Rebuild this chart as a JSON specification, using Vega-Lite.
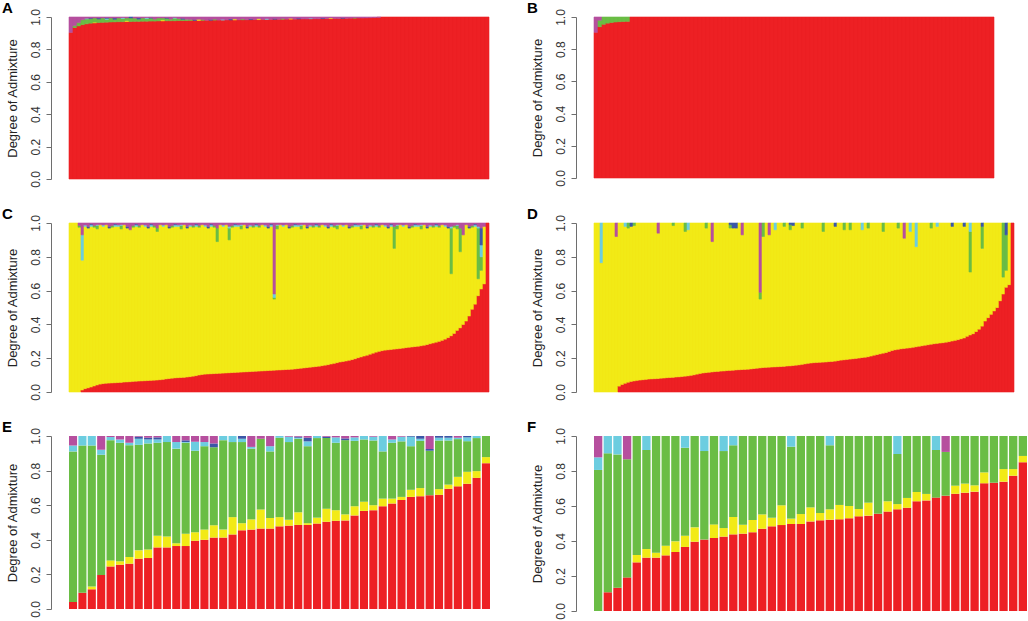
{
  "$schema": "https://vega.github.io/schema/vega-lite/v6.json",
  "padding": {"left": 2, "top": 0, "right": 0, "bottom": 0},
  "bounds": "flush",
  "columns": 2,
  "spacing": {"row": 44, "column": 104},
  "datasets": {
    "a": [
      {"i":0,"k1":0.905,"k6":0.095},{"i":1,"k1":0.935,"k3":0.012,"k6":0.053},{"i":2,"k1":0.945,"k3":0.02,"k6":0.035},
      {"i":3,"k1":0.953,"k3":0.03,"k6":0.017},{"i":4,"k1":0.958,"k3":0.03,"k4":0.004,"k6":0.008},{"i":5,"k1":0.962,"k3":0.028,"k5":0.004,"k6":0.006},
      {"i":6,"k1":0.964,"k2":0.004,"k3":0.026,"k6":0.006},{"i":7,"k1":0.966,"k3":0.022,"k5":0.006,"k6":0.006},{"i":8,"k1":0.967,"k3":0.027,"k6":0.006},
      {"i":9,"k1":0.968,"k3":0.018,"k4":0.006,"k5":0.004,"k6":0.004},{"i":10,"k1":0.969,"k3":0.025,"k6":0.006},{"i":11,"k1":0.97,"k3":0.016,"k5":0.008,"k6":0.006},
      {"i":12,"k1":0.971,"k3":0.023,"k6":0.006},{"i":13,"k1":0.971,"k3":0.02,"k4":0.005,"k6":0.004},{"i":14,"k1":0.972,"k2":0.005,"k3":0.017,"k6":0.006},
      {"i":15,"k1":0.972,"k3":0.022,"k5":0.006},{"i":16,"k1":0.973,"k3":0.02,"k6":0.007},{"i":17,"k1":0.973,"k3":0.014,"k5":0.008,"k6":0.005},
      {"i":18,"k1":0.974,"k3":0.02,"k6":0.006},{"i":19,"k1":0.974,"k3":0.016,"k4":0.006,"k6":0.004},{"i":20,"k1":0.975,"k3":0.018,"k5":0.004,"k6":0.003},
      {"i":21,"k1":0.975,"k3":0.012,"k6":0.013},{"i":22,"k1":0.976,"k3":0.018,"k6":0.006},{"i":23,"k1":0.976,"k2":0.006,"k3":0.012,"k6":0.006},
      {"i":24,"k1":0.977,"k3":0.015,"k5":0.004,"k6":0.004},{"i":25,"k1":0.977,"k3":0.01,"k6":0.013},{"i":26,"k1":0.977,"k3":0.016,"k4":0.004,"k6":0.003},
      {"i":27,"k1":0.978,"k3":0.012,"k6":0.01},{"i":28,"k1":0.978,"k3":0.008,"k5":0.006,"k6":0.008},{"i":29,"k1":0.978,"k3":0.008,"k6":0.014},
      {"i":30,"k1":0.979,"k3":0.006,"k6":0.015},{"i":31,"k1":0.979,"k5":0.006,"k6":0.015},{"i":32,"k1":0.979,"k2":0.007,"k6":0.014},
      {"i":33,"k1":0.98,"k3":0.005,"k6":0.015},{"i":34,"k1":0.98,"k6":0.02},{"i":35,"k1":0.98,"k5":0.005,"k6":0.015},
      {"i":36,"k1":0.981,"k3":0.006,"k6":0.013},{"i":37,"k1":0.981,"k6":0.019},{"i":38,"k1":0.981,"k4":0.005,"k6":0.014},
      {"i":39,"k1":0.982,"k6":0.018},{"i":40,"k1":0.982,"k5":0.006,"k6":0.012},{"i":41,"k1":0.982,"k2":0.006,"k6":0.012},
      {"i":42,"k1":0.983,"k6":0.017},{"i":43,"k1":0.983,"k3":0.005,"k6":0.012},{"i":44,"k1":0.983,"k6":0.017},
      {"i":45,"k1":0.984,"k5":0.005,"k6":0.011},{"i":46,"k1":0.984,"k6":0.016},{"i":47,"k1":0.984,"k2":0.006,"k6":0.01},
      {"i":48,"k1":0.985,"k6":0.015},{"i":49,"k1":0.985,"k4":0.005,"k6":0.01},{"i":50,"k1":0.985,"k6":0.015},
      {"i":51,"k1":0.986,"k5":0.005,"k6":0.009},{"i":52,"k1":0.986,"k6":0.014},{"i":53,"k1":0.986,"k3":0.005,"k6":0.009},
      {"i":54,"k1":0.987,"k6":0.013},{"i":55,"k1":0.987,"k2":0.005,"k6":0.008},{"i":56,"k1":0.987,"k6":0.013},
      {"i":57,"k1":0.988,"k5":0.005,"k6":0.007},{"i":58,"k1":0.988,"k6":0.012},{"i":59,"k1":0.988,"k6":0.012},
      {"i":60,"k1":0.989,"k4":0.004,"k6":0.007},{"i":61,"k1":0.989,"k6":0.011},{"i":62,"k1":0.989,"k6":0.011},
      {"i":63,"k1":0.99,"k5":0.004,"k6":0.006},{"i":64,"k1":0.99,"k6":0.01},{"i":65,"k1":0.99,"k2":0.004,"k6":0.006},
      {"i":66,"k1":0.991,"k6":0.009},{"i":67,"k1":0.991,"k6":0.009},{"i":68,"k1":0.992,"k5":0.004,"k6":0.004},
      {"i":69,"k1":0.992,"k6":0.008},{"i":70,"k1":0.993,"k6":0.007},{"i":71,"k1":0.993,"k3":0.003,"k6":0.004},
      {"i":72,"k1":0.994,"k6":0.006},{"i":73,"k1":0.994,"k6":0.006},{"i":74,"k1":0.995,"k6":0.005},
      {"i":75,"k1":0.996,"k6":0.004},{"i":76,"k1":0.997,"k6":0.003},{"i":77,"k1":0.998,"k6":0.002},
      {"i":78,"k1":1},{"i":79,"k1":1},{"i":80,"k1":1},{"i":81,"k1":1},{"i":82,"k1":1},{"i":83,"k1":1},{"i":84,"k1":1},
      {"i":85,"k1":1},{"i":86,"k1":1},{"i":87,"k1":1},{"i":88,"k1":1},{"i":89,"k1":1},{"i":90,"k1":1},{"i":91,"k1":1},
      {"i":92,"k1":1},{"i":93,"k1":1},{"i":94,"k1":1},{"i":95,"k1":1},{"i":96,"k1":1},{"i":97,"k1":1},{"i":98,"k1":1},
      {"i":99,"k1":1},{"i":100,"k1":1},{"i":101,"k1":1},{"i":102,"k1":1},{"i":103,"k1":1},{"i":104,"k1":1}
    ],
    "b": [
      {"i":0,"k1":0.905,"k6":0.095},{"i":1,"k1":0.94,"k3":0.04,"k6":0.02},{"i":2,"k1":0.955,"k3":0.045},
      {"i":3,"k1":0.962,"k3":0.038},{"i":4,"k1":0.966,"k3":0.034},{"i":5,"k1":0.969,"k3":0.031},
      {"i":6,"k1":0.971,"k3":0.029},{"i":7,"k1":0.972,"k3":0.028},{"i":8,"k1":0.973,"k3":0.027},
      {"i":9,"k1":1},{"i":10,"k1":1},{"i":11,"k1":1},{"i":12,"k1":1},{"i":13,"k1":1},{"i":14,"k1":1},{"i":15,"k1":1},
      {"i":16,"k1":1},{"i":17,"k1":1},{"i":18,"k1":1},{"i":19,"k1":1},{"i":20,"k1":1},{"i":21,"k1":1},{"i":22,"k1":1},
      {"i":23,"k1":1},{"i":24,"k1":1},{"i":25,"k1":1},{"i":26,"k1":1},{"i":27,"k1":1},{"i":28,"k1":1},{"i":29,"k1":1},
      {"i":30,"k1":1},{"i":31,"k1":1},{"i":32,"k1":1},{"i":33,"k1":1},{"i":34,"k1":1},{"i":35,"k1":1},{"i":36,"k1":1},
      {"i":37,"k1":1},{"i":38,"k1":1},{"i":39,"k1":1},{"i":40,"k1":1},{"i":41,"k1":1},{"i":42,"k1":1},{"i":43,"k1":1},
      {"i":44,"k1":1},{"i":45,"k1":1},{"i":46,"k1":1},{"i":47,"k1":1},{"i":48,"k1":1},{"i":49,"k1":1},{"i":50,"k1":1},
      {"i":51,"k1":1},{"i":52,"k1":1},{"i":53,"k1":1},{"i":54,"k1":1},{"i":55,"k1":1},{"i":56,"k1":1},{"i":57,"k1":1},
      {"i":58,"k1":1},{"i":59,"k1":1},{"i":60,"k1":1},{"i":61,"k1":1},{"i":62,"k1":1},{"i":63,"k1":1},{"i":64,"k1":1},
      {"i":65,"k1":1},{"i":66,"k1":1},{"i":67,"k1":1},{"i":68,"k1":1},{"i":69,"k1":1},{"i":70,"k1":1},{"i":71,"k1":1},
      {"i":72,"k1":1},{"i":73,"k1":1},{"i":74,"k1":1},{"i":75,"k1":1},{"i":76,"k1":1},{"i":77,"k1":1},{"i":78,"k1":1},
      {"i":79,"k1":1},{"i":80,"k1":1},{"i":81,"k1":1},{"i":82,"k1":1},{"i":83,"k1":1},{"i":84,"k1":1},{"i":85,"k1":1},
      {"i":86,"k1":1},{"i":87,"k1":1},{"i":88,"k1":1},{"i":89,"k1":1},{"i":90,"k1":1},{"i":91,"k1":1},{"i":92,"k1":1},
      {"i":93,"k1":1},{"i":94,"k1":1},{"i":95,"k1":1},{"i":96,"k1":1},{"i":97,"k1":1},{"i":98,"k1":1},{"i":99,"k1":1}
    ],
    "c": [
      {"i":0,"k2":1},{"i":1,"k2":1},{"i":2,"k2":1},
      {"i":3,"k2":0.975,"k3":0.01,"k6":0.015},
      {"i":4,"k1":0.012,"k2":0.768,"k4":0.15,"k6":0.07},
      {"i":5,"k1":0.02,"k2":0.96,"k4":0.008,"k6":0.012},
      {"i":6,"k1":0.025,"k2":0.945,"k5":0.01,"k6":0.02},
      {"i":7,"k1":0.03,"k2":0.95,"k4":0.01,"k5":0.005,"k6":0.005},
      {"i":8,"k1":0.036,"k2":0.939,"k3":0.01,"k6":0.015},
      {"i":9,"k1":0.042,"k2":0.923,"k3":0.02,"k4":0.005,"k6":0.01},
      {"i":10,"k1":0.047,"k2":0.943,"k6":0.01},
      {"i":11,"k1":0.05,"k2":0.93,"k4":0.008,"k6":0.012},
      {"i":12,"k1":0.052,"k2":0.938,"k6":0.01},
      {"i":13,"k1":0.053,"k2":0.917,"k5":0.01,"k6":0.02},
      {"i":14,"k1":0.054,"k2":0.921,"k3":0.01,"k6":0.015},
      {"i":15,"k1":0.055,"k2":0.925,"k4":0.01,"k5":0.005,"k6":0.005},
      {"i":16,"k1":0.056,"k2":0.924,"k4":0.008,"k6":0.012},
      {"i":17,"k1":0.057,"k2":0.908,"k3":0.02,"k4":0.005,"k6":0.01},
      {"i":18,"k1":0.059,"k2":0.931,"k6":0.01},
      {"i":19,"k1":0.06,"k2":0.91,"k5":0.01,"k6":0.02},
      {"i":20,"k1":0.061,"k2":0.899,"k6":0.04},
      {"i":21,"k1":0.063,"k2":0.912,"k3":0.01,"k6":0.015},
      {"i":22,"k1":0.064,"k2":0.916,"k4":0.01,"k5":0.005,"k6":0.005},
      {"i":23,"k1":0.065,"k2":0.91,"k3":0.01,"k6":0.015},
      {"i":24,"k1":0.066,"k2":0.924,"k6":0.01},
      {"i":25,"k1":0.067,"k2":0.913,"k4":0.008,"k6":0.012},
      {"i":26,"k1":0.068,"k2":0.902,"k5":0.01,"k6":0.02},
      {"i":27,"k1":0.069,"k2":0.911,"k4":0.01,"k5":0.005,"k6":0.005},
      {"i":28,"k1":0.07,"k2":0.905,"k3":0.01,"k6":0.015},
      {"i":29,"k1":0.071,"k2":0.879,"k3":0.02,"k6":0.03},
      {"i":30,"k1":0.073,"k2":0.917,"k6":0.01},
      {"i":31,"k1":0.075,"k2":0.905,"k4":0.008,"k6":0.012},
      {"i":32,"k1":0.078,"k2":0.912,"k6":0.01},
      {"i":33,"k1":0.08,"k2":0.89,"k5":0.01,"k6":0.02},
      {"i":34,"k1":0.082,"k2":0.893,"k3":0.01,"k6":0.015},
      {"i":35,"k1":0.084,"k2":0.896,"k4":0.01,"k5":0.005,"k6":0.005},
      {"i":36,"k1":0.085,"k2":0.895,"k4":0.008,"k6":0.012},
      {"i":37,"k1":0.086,"k2":0.879,"k3":0.02,"k4":0.005,"k6":0.01},
      {"i":38,"k1":0.087,"k2":0.903,"k6":0.01},
      {"i":39,"k1":0.089,"k2":0.881,"k5":0.01,"k6":0.02},
      {"i":40,"k1":0.091,"k2":0.889,"k4":0.008,"k6":0.012},
      {"i":41,"k1":0.094,"k2":0.881,"k3":0.01,"k6":0.015},
      {"i":42,"k1":0.097,"k2":0.883,"k4":0.01,"k5":0.005,"k6":0.005},
      {"i":43,"k1":0.101,"k2":0.874,"k3":0.01,"k6":0.015},
      {"i":44,"k1":0.104,"k2":0.886,"k6":0.01},
      {"i":45,"k1":0.106,"k2":0.874,"k4":0.008,"k6":0.012},
      {"i":46,"k1":0.107,"k2":0.863,"k5":0.01,"k6":0.02},
      {"i":47,"k1":0.108,"k2":0.872,"k4":0.01,"k5":0.005,"k6":0.005},
      {"i":48,"k1":0.109,"k2":0.866,"k3":0.01,"k6":0.015},
      {"i":49,"k1":0.11,"k2":0.78,"k3":0.08,"k6":0.03},
      {"i":50,"k1":0.111,"k2":0.879,"k6":0.01},
      {"i":51,"k1":0.112,"k2":0.868,"k4":0.008,"k6":0.012},
      {"i":52,"k1":0.113,"k2":0.877,"k6":0.01},
      {"i":53,"k1":0.114,"k2":0.786,"k3":0.07,"k4":0.01,"k6":0.02},
      {"i":54,"k1":0.115,"k2":0.86,"k3":0.01,"k6":0.015},
      {"i":55,"k1":0.116,"k2":0.864,"k4":0.01,"k5":0.005,"k6":0.005},
      {"i":56,"k1":0.117,"k2":0.863,"k4":0.008,"k6":0.012},
      {"i":57,"k1":0.118,"k2":0.847,"k3":0.02,"k4":0.005,"k6":0.01},
      {"i":58,"k1":0.119,"k2":0.871,"k6":0.01},
      {"i":59,"k1":0.12,"k2":0.85,"k5":0.01,"k6":0.02},
      {"i":60,"k1":0.121,"k2":0.859,"k4":0.008,"k6":0.012},
      {"i":61,"k1":0.122,"k2":0.853,"k3":0.01,"k6":0.015},
      {"i":62,"k1":0.123,"k2":0.857,"k4":0.01,"k5":0.005,"k6":0.005},
      {"i":63,"k1":0.124,"k2":0.851,"k3":0.01,"k6":0.015},
      {"i":64,"k1":0.125,"k2":0.865,"k6":0.01},
      {"i":65,"k1":0.126,"k2":0.854,"k4":0.008,"k6":0.012},
      {"i":66,"k1":0.127,"k2":0.843,"k5":0.01,"k6":0.02},
      {"i":67,"k1":0.128,"k2":0.852,"k4":0.01,"k5":0.005,"k6":0.005},
      {"i":68,"k1":0.129,"k2":0.421,"k3":0.01,"k4":0.02,"k6":0.42},
      {"i":69,"k1":0.13,"k2":0.835,"k3":0.02,"k4":0.005,"k6":0.01},
      {"i":70,"k1":0.131,"k2":0.859,"k6":0.01},
      {"i":71,"k1":0.132,"k2":0.848,"k4":0.008,"k6":0.012},
      {"i":72,"k1":0.133,"k2":0.857,"k6":0.01},
      {"i":73,"k1":0.134,"k2":0.836,"k5":0.01,"k6":0.02},
      {"i":74,"k1":0.135,"k2":0.84,"k3":0.01,"k6":0.015},
      {"i":75,"k1":0.137,"k2":0.843,"k4":0.01,"k5":0.005,"k6":0.005},
      {"i":76,"k1":0.139,"k2":0.841,"k4":0.008,"k6":0.012},
      {"i":77,"k1":0.141,"k2":0.824,"k3":0.02,"k4":0.005,"k6":0.01},
      {"i":78,"k1":0.143,"k2":0.847,"k6":0.01},
      {"i":79,"k1":0.145,"k2":0.825,"k5":0.01,"k6":0.02},
      {"i":80,"k1":0.147,"k2":0.833,"k4":0.008,"k6":0.012},
      {"i":81,"k1":0.149,"k2":0.826,"k3":0.01,"k6":0.015},
      {"i":82,"k1":0.151,"k2":0.829,"k4":0.01,"k5":0.005,"k6":0.005},
      {"i":83,"k1":0.153,"k2":0.822,"k3":0.01,"k6":0.015},
      {"i":84,"k1":0.156,"k2":0.834,"k6":0.01},
      {"i":85,"k1":0.159,"k2":0.821,"k4":0.008,"k6":0.012},
      {"i":86,"k1":0.162,"k2":0.808,"k5":0.01,"k6":0.02},
      {"i":87,"k1":0.166,"k2":0.814,"k4":0.01,"k5":0.005,"k6":0.005},
      {"i":88,"k1":0.17,"k2":0.805,"k3":0.01,"k6":0.015},
      {"i":89,"k1":0.174,"k2":0.791,"k3":0.02,"k4":0.005,"k6":0.01},
      {"i":90,"k1":0.178,"k2":0.812,"k6":0.01},
      {"i":91,"k1":0.181,"k2":0.799,"k4":0.008,"k6":0.012},
      {"i":92,"k1":0.184,"k2":0.806,"k6":0.01},
      {"i":93,"k1":0.188,"k2":0.782,"k5":0.01,"k6":0.02},
      {"i":94,"k1":0.192,"k2":0.783,"k3":0.01,"k6":0.015},
      {"i":95,"k1":0.197,"k2":0.783,"k4":0.01,"k5":0.005,"k6":0.005},
      {"i":96,"k1":0.203,"k2":0.777,"k4":0.008,"k6":0.012},
      {"i":97,"k1":0.208,"k2":0.757,"k3":0.02,"k4":0.005,"k6":0.01},
      {"i":98,"k1":0.213,"k2":0.777,"k6":0.01},
      {"i":99,"k1":0.218,"k2":0.752,"k5":0.01,"k6":0.02},
      {"i":100,"k1":0.224,"k2":0.756,"k4":0.008,"k6":0.012},
      {"i":101,"k1":0.23,"k2":0.745,"k3":0.01,"k6":0.015},
      {"i":102,"k1":0.236,"k2":0.744,"k4":0.01,"k5":0.005,"k6":0.005},
      {"i":103,"k1":0.241,"k2":0.734,"k3":0.01,"k6":0.015},
      {"i":104,"k1":0.245,"k2":0.745,"k6":0.01},
      {"i":105,"k1":0.248,"k2":0.732,"k4":0.008,"k6":0.012},
      {"i":106,"k1":0.25,"k2":0.72,"k5":0.01,"k6":0.02},
      {"i":107,"k1":0.252,"k2":0.728,"k4":0.01,"k5":0.005,"k6":0.005},
      {"i":108,"k1":0.254,"k2":0.596,"k3":0.13,"k6":0.02},
      {"i":109,"k1":0.256,"k2":0.709,"k3":0.02,"k4":0.005,"k6":0.01},
      {"i":110,"k1":0.258,"k2":0.732,"k6":0.01},
      {"i":111,"k1":0.26,"k2":0.72,"k4":0.008,"k6":0.012},
      {"i":112,"k1":0.263,"k2":0.727,"k6":0.01},
      {"i":113,"k1":0.265,"k2":0.705,"k5":0.01,"k6":0.02},
      {"i":114,"k1":0.267,"k2":0.708,"k3":0.01,"k6":0.015},
      {"i":115,"k1":0.269,"k2":0.711,"k4":0.01,"k5":0.005,"k6":0.005},
      {"i":116,"k1":0.271,"k2":0.709,"k4":0.008,"k6":0.012},
      {"i":117,"k1":0.274,"k2":0.691,"k3":0.02,"k4":0.005,"k6":0.01},
      {"i":118,"k1":0.277,"k2":0.713,"k6":0.01},
      {"i":119,"k1":0.281,"k2":0.689,"k5":0.01,"k6":0.02},
      {"i":120,"k1":0.286,"k2":0.694,"k4":0.008,"k6":0.012},
      {"i":121,"k1":0.29,"k2":0.685,"k3":0.01,"k6":0.015},
      {"i":122,"k1":0.295,"k2":0.685,"k4":0.01,"k5":0.005,"k6":0.005},
      {"i":123,"k1":0.3,"k2":0.675,"k3":0.01,"k6":0.015},
      {"i":124,"k1":0.306,"k2":0.684,"k6":0.01},
      {"i":125,"k1":0.313,"k2":0.667,"k4":0.008,"k6":0.012},
      {"i":126,"k1":0.322,"k2":0.648,"k5":0.01,"k6":0.02},
      {"i":127,"k1":0.333,"k2":0.367,"k3":0.27,"k4":0.01,"k6":0.02},
      {"i":128,"k1":0.347,"k2":0.628,"k3":0.01,"k6":0.015},
      {"i":129,"k1":0.365,"k2":0.6,"k3":0.02,"k4":0.005,"k6":0.01},
      {"i":130,"k1":0.38,"k2":0.45,"k3":0.14,"k6":0.03},
      {"i":131,"k1":0.4,"k2":0.53,"k6":0.07},
      {"i":132,"k1":0.42,"k2":0.57,"k6":0.01},
      {"i":133,"k1":0.45,"k2":0.52,"k5":0.01,"k6":0.02},
      {"i":134,"k1":0.49,"k2":0.485,"k3":0.01,"k6":0.015},
      {"i":135,"k1":0.52,"k2":0.46,"k4":0.01,"k5":0.005,"k6":0.005},
      {"i":136,"k1":0.57,"k2":0.1,"k3":0.3,"k4":0.01,"k6":0.02},
      {"i":137,"k1":0.61,"k2":0.11,"k3":0.08,"k4":0.07,"k5":0.1,"k6":0.03},
      {"i":138,"k1":0.64,"k2":0.34,"k6":0.02},
      {"i":139,"k1":1}
    ],
    "d": [
      {"i":0,"k2":1},{"i":1,"k2":1},{"i":2,"k2":0.765,"k4":0.235},{"i":3,"k2":1},{"i":4,"k2":1},{"i":5,"k2":1},{"i":6,"k2":1},
      {"i":7,"k2":0.92,"k6":0.08},{"i":8,"k1":0.035,"k2":0.965},{"i":9,"k1":0.045,"k2":0.955},
      {"i":10,"k1":0.052,"k2":0.928,"k4":0.02},{"i":11,"k1":0.058,"k2":0.912,"k3":0.03},{"i":12,"k1":0.063,"k2":0.917,"k5":0.02},
      {"i":13,"k1":0.066,"k2":0.919,"k3":0.015},{"i":14,"k1":0.069,"k2":0.931},{"i":15,"k1":0.071,"k2":0.929},
      {"i":16,"k1":0.073,"k2":0.927},{"i":17,"k1":0.075,"k2":0.925},{"i":18,"k1":0.077,"k2":0.923},
      {"i":19,"k1":0.078,"k2":0.922},{"i":20,"k1":0.079,"k2":0.921},{"i":21,"k1":0.08,"k2":0.86,"k6":0.06},
      {"i":22,"k1":0.082,"k2":0.918},{"i":23,"k1":0.083,"k2":0.917},{"i":24,"k1":0.085,"k2":0.915},
      {"i":25,"k1":0.086,"k2":0.914},{"i":26,"k1":0.087,"k2":0.898,"k3":0.015},{"i":27,"k1":0.089,"k2":0.911},
      {"i":28,"k1":0.09,"k2":0.91},{"i":29,"k1":0.092,"k2":0.908},{"i":30,"k1":0.094,"k2":0.856,"k3":0.05},
      {"i":31,"k1":0.096,"k2":0.864,"k4":0.04},{"i":32,"k1":0.099,"k2":0.901},{"i":33,"k1":0.102,"k2":0.898},
      {"i":34,"k1":0.106,"k2":0.894},{"i":35,"k1":0.11,"k2":0.89},{"i":36,"k1":0.113,"k2":0.887},
      {"i":37,"k1":0.115,"k2":0.855,"k3":0.03},{"i":38,"k1":0.117,"k2":0.883},{"i":39,"k1":0.119,"k2":0.771,"k6":0.11},
      {"i":40,"k1":0.121,"k2":0.879},{"i":41,"k1":0.122,"k2":0.878},{"i":42,"k1":0.124,"k2":0.876},
      {"i":43,"k1":0.125,"k2":0.875},{"i":44,"k1":0.127,"k2":0.873},{"i":45,"k1":0.128,"k2":0.842,"k3":0.02,"k5":0.01},
      {"i":46,"k1":0.129,"k2":0.841,"k5":0.03},{"i":47,"k1":0.131,"k2":0.839,"k5":0.03},{"i":48,"k1":0.132,"k2":0.868},
      {"i":49,"k1":0.133,"k2":0.797,"k6":0.07},{"i":50,"k1":0.134,"k2":0.866},{"i":51,"k1":0.135,"k2":0.865},
      {"i":52,"k1":0.137,"k2":0.863},{"i":53,"k1":0.139,"k2":0.861},{"i":54,"k1":0.141,"k2":0.859},
      {"i":55,"k1":0.143,"k2":0.407,"k3":0.04,"k6":0.41},{"i":56,"k1":0.145,"k2":0.775,"k3":0.08},{"i":57,"k1":0.146,"k2":0.854},
      {"i":58,"k1":0.147,"k2":0.783,"k6":0.07},{"i":59,"k1":0.148,"k2":0.852},{"i":60,"k1":0.149,"k2":0.811,"k4":0.04},
      {"i":61,"k1":0.15,"k2":0.85},{"i":62,"k1":0.151,"k2":0.849},{"i":63,"k1":0.152,"k2":0.828,"k3":0.02},
      {"i":64,"k1":0.154,"k2":0.846},{"i":65,"k1":0.155,"k2":0.805,"k3":0.03,"k5":0.01},{"i":66,"k1":0.157,"k2":0.828,"k5":0.015},
      {"i":67,"k1":0.159,"k2":0.841},{"i":68,"k1":0.161,"k2":0.839},{"i":69,"k1":0.164,"k2":0.806,"k3":0.03},
      {"i":70,"k1":0.167,"k2":0.833},{"i":71,"k1":0.17,"k2":0.83},{"i":72,"k1":0.172,"k2":0.828},
      {"i":73,"k1":0.174,"k2":0.826},{"i":74,"k1":0.175,"k2":0.825},{"i":75,"k1":0.176,"k2":0.824},
      {"i":76,"k1":0.177,"k2":0.773,"k3":0.05},{"i":77,"k1":0.178,"k2":0.822},{"i":78,"k1":0.18,"k2":0.82},
      {"i":79,"k1":0.181,"k2":0.819},{"i":80,"k1":0.183,"k2":0.797,"k5":0.02},{"i":81,"k1":0.186,"k2":0.814},
      {"i":82,"k1":0.189,"k2":0.811},{"i":83,"k1":0.191,"k2":0.769,"k3":0.04},{"i":84,"k1":0.193,"k2":0.807},
      {"i":85,"k1":0.195,"k2":0.765,"k3":0.04},{"i":86,"k1":0.197,"k2":0.803},{"i":87,"k1":0.199,"k2":0.801},
      {"i":88,"k1":0.201,"k2":0.799},{"i":89,"k1":0.204,"k2":0.756,"k4":0.04},{"i":90,"k1":0.206,"k2":0.794},
      {"i":91,"k1":0.209,"k2":0.761,"k3":0.03},{"i":92,"k1":0.213,"k2":0.787},{"i":93,"k1":0.218,"k2":0.782},
      {"i":94,"k1":0.222,"k2":0.778},{"i":95,"k1":0.226,"k2":0.774},{"i":96,"k1":0.23,"k2":0.72,"k3":0.05},
      {"i":97,"k1":0.234,"k2":0.766},{"i":98,"k1":0.24,"k2":0.76},{"i":99,"k1":0.246,"k2":0.754},
      {"i":100,"k1":0.25,"k2":0.75},{"i":101,"k1":0.253,"k2":0.717,"k3":0.03},{"i":102,"k1":0.256,"k2":0.744},
      {"i":103,"k1":0.258,"k2":0.652,"k6":0.09},{"i":104,"k1":0.26,"k2":0.74},{"i":105,"k1":0.262,"k2":0.688,"k4":0.05},
      {"i":106,"k1":0.265,"k2":0.735},{"i":107,"k1":0.268,"k2":0.592,"k4":0.14},{"i":108,"k1":0.271,"k2":0.729},
      {"i":109,"k1":0.274,"k2":0.726},{"i":110,"k1":0.277,"k2":0.723},{"i":111,"k1":0.28,"k2":0.72},
      {"i":112,"k1":0.283,"k2":0.687,"k3":0.03},{"i":113,"k1":0.286,"k2":0.714},{"i":114,"k1":0.288,"k2":0.692,"k4":0.02},
      {"i":115,"k1":0.29,"k2":0.71},{"i":116,"k1":0.292,"k2":0.708},{"i":117,"k1":0.295,"k2":0.705},
      {"i":118,"k1":0.298,"k2":0.702},{"i":119,"k1":0.302,"k2":0.678,"k5":0.02},{"i":120,"k1":0.306,"k2":0.694},
      {"i":121,"k1":0.31,"k2":0.69},{"i":122,"k1":0.315,"k2":0.685},{"i":123,"k1":0.32,"k2":0.66,"k5":0.02},
      {"i":124,"k1":0.33,"k2":0.67},{"i":125,"k1":0.338,"k2":0.372,"k3":0.24,"k4":0.05},{"i":126,"k1":0.345,"k2":0.655},
      {"i":127,"k1":0.358,"k2":0.642},{"i":128,"k1":0.372,"k2":0.628},{"i":129,"k1":0.39,"k2":0.46,"k3":0.13,"k5":0.02},
      {"i":130,"k1":0.42,"k2":0.58},{"i":131,"k1":0.44,"k2":0.56},{"i":132,"k1":0.46,"k2":0.54},
      {"i":133,"k1":0.48,"k2":0.52},{"i":134,"k1":0.5,"k2":0.5},{"i":135,"k1":0.54,"k2":0.46},
      {"i":136,"k1":0.58,"k2":0.1,"k3":0.32},{"i":137,"k1":0.62,"k2":0.1,"k3":0.21,"k5":0.07},{"i":138,"k1":0.635,"k2":0.365},
      {"i":139,"k1":1}
    ],
    "e": [
      {"i":1,"k1":0.041,"k3":0.87,"k4":0.034,"k6":0.055},
      {"i":2,"k1":0.094,"k3":0.851,"k4":0.055},
      {"i":3,"k1":0.114,"k2":0.016,"k3":0.815,"k4":0.055},
      {"i":4,"k1":0.197,"k3":0.695,"k4":0.029,"k6":0.079},
      {"i":5,"k1":0.246,"k2":0.035,"k3":0.695,"k4":0.018,"k6":0.006},
      {"i":6,"k1":0.256,"k2":0.02,"k3":0.685,"k4":0.019,"k6":0.02},
      {"i":7,"k1":0.262,"k2":0.039,"k3":0.646,"k4":0.014,"k6":0.039},
      {"i":8,"k1":0.291,"k2":0.048,"k3":0.61,"k4":0.035,"k5":0.012,"k6":0.004},
      {"i":9,"k1":0.295,"k2":0.049,"k3":0.613,"k4":0.023,"k5":0.01,"k6":0.01},
      {"i":10,"k1":0.356,"k2":0.067,"k3":0.538,"k4":0.019,"k5":0.012,"k6":0.008},
      {"i":11,"k1":0.356,"k2":0.063,"k3":0.546,"k4":0.035},
      {"i":12,"k1":0.364,"k2":0.016,"k3":0.547,"k4":0.038,"k6":0.035},
      {"i":13,"k1":0.364,"k2":0.071,"k3":0.526,"k4":0.004,"k5":0.01,"k6":0.025},
      {"i":14,"k1":0.394,"k2":0.049,"k3":0.472,"k4":0.052,"k6":0.033},
      {"i":15,"k1":0.4,"k2":0.059,"k3":0.482,"k4":0.024,"k6":0.035},
      {"i":16,"k1":0.413,"k2":0.071,"k3":0.451,"k5":0.022,"k6":0.043},
      {"i":17,"k1":0.413,"k2":0.046,"k3":0.517,"k4":0.024},
      {"i":18,"k1":0.431,"k2":0.1,"k3":0.434,"k4":0.035},
      {"i":19,"k1":0.455,"k2":0.041,"k3":0.469,"k4":0.019,"k5":0.016},
      {"i":20,"k1":0.459,"k2":0.059,"k3":0.409,"k4":0.01,"k6":0.063},
      {"i":21,"k1":0.465,"k2":0.11,"k3":0.409,"k6":0.016},
      {"i":22,"k1":0.465,"k2":0.061,"k3":0.385,"k4":0.03,"k6":0.059},
      {"i":23,"k1":0.478,"k2":0.053,"k3":0.459,"k4":0.01},
      {"i":24,"k1":0.482,"k2":0.034,"k3":0.449,"k4":0.031,"k6":0.004},
      {"i":25,"k1":0.486,"k2":0.073,"k3":0.425,"k4":0.006,"k5":0.006,"k6":0.004},
      {"i":26,"k1":0.486,"k2":0.01,"k3":0.445,"k4":0.028,"k5":0.021,"k6":0.01},
      {"i":27,"k1":0.494,"k2":0.034,"k3":0.46,"k4":0.012},
      {"i":28,"k1":0.504,"k2":0.075,"k3":0.409,"k5":0.008,"k6":0.004},
      {"i":29,"k1":0.51,"k2":0.061,"k3":0.39,"k4":0.031,"k6":0.008},
      {"i":30,"k1":0.512,"k2":0.035,"k3":0.429,"k5":0.01,"k6":0.014},
      {"i":31,"k1":0.541,"k2":0.053,"k3":0.378,"k4":0.02,"k6":0.008},
      {"i":32,"k1":0.567,"k2":0.053,"k3":0.36,"k4":0.02},
      {"i":33,"k1":0.571,"k2":0.029,"k3":0.374,"k4":0.022,"k6":0.004},
      {"i":34,"k1":0.594,"k2":0.044,"k3":0.273,"k4":0.089},
      {"i":35,"k1":0.61,"k2":0.028,"k3":0.323,"k4":0.019,"k6":0.02},
      {"i":36,"k1":0.63,"k2":0.018,"k3":0.321,"k4":0.027,"k6":0.004},
      {"i":37,"k1":0.648,"k2":0.041,"k3":0.252,"k4":0.055,"k5":0.004},
      {"i":38,"k1":0.652,"k2":0.047,"k3":0.273,"k4":0.012,"k5":0.016},
      {"i":39,"k1":0.658,"k3":0.257,"k5":0.01,"k6":0.075},
      {"i":40,"k1":0.66,"k2":0.033,"k3":0.281,"k4":0.016,"k5":0.01},
      {"i":41,"k1":0.695,"k2":0.024,"k3":0.255,"k4":0.016,"k5":0.01},
      {"i":42,"k1":0.709,"k2":0.055,"k3":0.218,"k4":0.008,"k6":0.01},
      {"i":43,"k1":0.724,"k2":0.069,"k3":0.177,"k4":0.022,"k5":0.008},
      {"i":44,"k1":0.758,"k2":0.039,"k3":0.191,"k4":0.012},
      {"i":45,"k1":0.843,"k2":0.035,"k3":0.122}
    ],
    "f": [
      {"i":1,"k3":0.806,"k4":0.072,"k6":0.122},
      {"i":2,"k1":0.107,"k3":0.794,"k4":0.099},
      {"i":3,"k1":0.133,"k3":0.762,"k4":0.105},
      {"i":4,"k1":0.192,"k3":0.675,"k6":0.133},
      {"i":5,"k1":0.278,"k2":0.042,"k3":0.68},
      {"i":6,"k1":0.305,"k2":0.049,"k3":0.566,"k4":0.08},
      {"i":7,"k1":0.305,"k2":0.028,"k3":0.667},
      {"i":8,"k1":0.318,"k2":0.055,"k3":0.627},
      {"i":9,"k1":0.337,"k2":0.061,"k3":0.602},
      {"i":10,"k1":0.366,"k2":0.064,"k3":0.503,"k4":0.067},
      {"i":11,"k1":0.396,"k2":0.082,"k3":0.522},
      {"i":12,"k1":0.408,"k3":0.506,"k4":0.086},
      {"i":13,"k1":0.417,"k2":0.078,"k3":0.505},
      {"i":14,"k1":0.425,"k2":0.049,"k3":0.44,"k4":0.086},
      {"i":15,"k1":0.438,"k2":0.099,"k3":0.41,"k4":0.053},
      {"i":16,"k1":0.442,"k2":0.051,"k3":0.507},
      {"i":17,"k1":0.45,"k2":0.07,"k3":0.48},
      {"i":18,"k1":0.47,"k2":0.082,"k3":0.448},
      {"i":19,"k1":0.484,"k2":0.049,"k3":0.467},
      {"i":20,"k1":0.491,"k2":0.113,"k3":0.396},
      {"i":21,"k1":0.497,"k2":0.031,"k3":0.411,"k4":0.061},
      {"i":22,"k1":0.497,"k2":0.057,"k3":0.446},
      {"i":23,"k1":0.512,"k2":0.08,"k3":0.408},
      {"i":24,"k1":0.518,"k2":0.042,"k3":0.44},
      {"i":25,"k1":0.522,"k2":0.059,"k3":0.366,"k4":0.053},
      {"i":26,"k1":0.524,"k2":0.082,"k3":0.394},
      {"i":27,"k1":0.53,"k2":0.07,"k3":0.4},
      {"i":28,"k1":0.541,"k2":0.042,"k3":0.417},
      {"i":29,"k1":0.545,"k2":0.074,"k3":0.381},
      {"i":30,"k1":0.556,"k3":0.444},
      {"i":31,"k1":0.568,"k2":0.059,"k3":0.373},
      {"i":32,"k1":0.581,"k2":0.03,"k3":0.286,"k4":0.103},
      {"i":33,"k1":0.59,"k2":0.056,"k3":0.354},
      {"i":34,"k1":0.627,"k2":0.053,"k3":0.32},
      {"i":35,"k1":0.632,"k2":0.037,"k3":0.331},
      {"i":36,"k1":0.648,"k3":0.272,"k4":0.08},
      {"i":37,"k1":0.659,"k3":0.25,"k6":0.091},
      {"i":38,"k1":0.67,"k2":0.046,"k3":0.284},
      {"i":39,"k1":0.676,"k2":0.052,"k3":0.272},
      {"i":40,"k1":0.682,"k2":0.036,"k3":0.282},
      {"i":41,"k1":0.73,"k2":0.062,"k3":0.208},
      {"i":42,"k1":0.733,"k3":0.267},
      {"i":43,"k1":0.739,"k2":0.072,"k3":0.189},
      {"i":44,"k1":0.773,"k2":0.038,"k3":0.189},
      {"i":45,"k1":0.85,"k2":0.036,"k3":0.114}
    ]
  },
  "concat": [
    {
      "data": {"name": "a"}, "width": 420, "height": 162, "title": "A",
      "transform": [{"fold": ["k1", "k2", "k3", "k4", "k5", "k6"], "as": ["k", "q"]}, {"filter": "isValid(datum.q)"}],
      "mark": {"type": "bar", "strokeWidth": 0.6},
      "encoding": {
        "x": {"field": "i", "type": "ordinal", "axis": null, "scale": {"paddingInner": 0, "paddingOuter": 0}},
        "y": {"field": "q", "type": "quantitative", "stack": "zero", "scale": {"domain": [0, 1], "nice": false}, "axis": {"title": "Degree of Admixture", "values": [0, 0.2, 0.4, 0.6, 0.8, 1], "format": ".1f"}},
        "color": {"field": "k", "type": "nominal", "scale": {"domain": ["k1", "k2", "k3", "k4", "k5", "k6"], "range": ["#ED2024", "#F2EA16", "#6ABD45", "#6CCDE0", "#3B57A7", "#B64F9E"]}, "legend": null},
        "stroke": {"field": "k", "type": "nominal", "scale": {"domain": ["k1", "k2", "k3", "k4", "k5", "k6"], "range": ["#ED2024", "#F2EA16", "#6ABD45", "#6CCDE0", "#3B57A7", "#B64F9E"]}, "legend": null},
        "order": {"field": "k", "sort": "ascending"}
      }
    },
    {
      "data": {"name": "b"}, "width": 400, "height": 161, "title": "B",
      "transform": [{"fold": ["k1", "k2", "k3", "k4", "k5", "k6"], "as": ["k", "q"]}, {"filter": "isValid(datum.q)"}],
      "mark": {"type": "bar", "strokeWidth": 0.6},
      "encoding": {
        "x": {"field": "i", "type": "ordinal", "axis": null, "scale": {"paddingInner": 0, "paddingOuter": 0}},
        "y": {"field": "q", "type": "quantitative", "stack": "zero", "scale": {"domain": [0, 1], "nice": false}, "axis": {"title": "Degree of Admixture", "values": [0, 0.2, 0.4, 0.6, 0.8, 1], "format": ".1f"}},
        "color": {"field": "k", "type": "nominal", "scale": {"domain": ["k1", "k2", "k3", "k4", "k5", "k6"], "range": ["#ED2024", "#F2EA16", "#6ABD45", "#6CCDE0", "#3B57A7", "#B64F9E"]}, "legend": null},
        "stroke": {"field": "k", "type": "nominal", "scale": {"domain": ["k1", "k2", "k3", "k4", "k5", "k6"], "range": ["#ED2024", "#F2EA16", "#6ABD45", "#6CCDE0", "#3B57A7", "#B64F9E"]}, "legend": null},
        "order": {"field": "k", "sort": "ascending"}
      }
    },
    {
      "data": {"name": "c"}, "width": 420, "height": 169, "title": "C",
      "transform": [{"fold": ["k1", "k2", "k3", "k4", "k5", "k6"], "as": ["k", "q"]}, {"filter": "isValid(datum.q)"}],
      "mark": {"type": "bar", "strokeWidth": 0.6},
      "encoding": {
        "x": {"field": "i", "type": "ordinal", "axis": null, "scale": {"paddingInner": 0, "paddingOuter": 0}},
        "y": {"field": "q", "type": "quantitative", "stack": "zero", "scale": {"domain": [0, 1], "nice": false}, "axis": {"title": "Degree of Admixture", "values": [0, 0.2, 0.4, 0.6, 0.8, 1], "format": ".1f"}},
        "color": {"field": "k", "type": "nominal", "scale": {"domain": ["k1", "k2", "k3", "k4", "k5", "k6"], "range": ["#ED2024", "#F2EA16", "#6ABD45", "#6CCDE0", "#3B57A7", "#B64F9E"]}, "legend": null},
        "stroke": {"field": "k", "type": "nominal", "scale": {"domain": ["k1", "k2", "k3", "k4", "k5", "k6"], "range": ["#ED2024", "#F2EA16", "#6ABD45", "#6CCDE0", "#3B57A7", "#B64F9E"]}, "legend": null},
        "order": {"field": "k", "sort": "ascending"}
      }
    },
    {
      "data": {"name": "d"}, "width": 420, "height": 169, "title": "D",
      "transform": [{"fold": ["k1", "k2", "k3", "k4", "k5", "k6"], "as": ["k", "q"]}, {"filter": "isValid(datum.q)"}],
      "mark": {"type": "bar", "strokeWidth": 0.6},
      "encoding": {
        "x": {"field": "i", "type": "ordinal", "axis": null, "scale": {"paddingInner": 0, "paddingOuter": 0}},
        "y": {"field": "q", "type": "quantitative", "stack": "zero", "scale": {"domain": [0, 1], "nice": false}, "axis": {"title": "Degree of Admixture", "values": [0, 0.2, 0.4, 0.6, 0.8, 1], "format": ".1f"}},
        "color": {"field": "k", "type": "nominal", "scale": {"domain": ["k1", "k2", "k3", "k4", "k5", "k6"], "range": ["#ED2024", "#F2EA16", "#6ABD45", "#6CCDE0", "#3B57A7", "#B64F9E"]}, "legend": null},
        "stroke": {"field": "k", "type": "nominal", "scale": {"domain": ["k1", "k2", "k3", "k4", "k5", "k6"], "range": ["#ED2024", "#F2EA16", "#6ABD45", "#6CCDE0", "#3B57A7", "#B64F9E"]}, "legend": null},
        "order": {"field": "k", "sort": "ascending"}
      }
    },
    {
      "data": {"name": "e"}, "width": 421, "height": 173, "title": "E",
      "transform": [{"fold": ["k1", "k2", "k3", "k4", "k5", "k6"], "as": ["k", "q"]}, {"filter": "isValid(datum.q)"}],
      "mark": {"type": "bar"},
      "encoding": {
        "x": {"field": "i", "type": "ordinal", "axis": null, "scale": {"paddingInner": 0.14, "paddingOuter": 0}},
        "y": {"field": "q", "type": "quantitative", "stack": "zero", "scale": {"domain": [0, 1], "nice": false}, "axis": {"title": "Degree of Admixture", "values": [0, 0.2, 0.4, 0.6, 0.8, 1], "format": ".1f"}},
        "color": {"field": "k", "type": "nominal", "scale": {"domain": ["k1", "k2", "k3", "k4", "k5", "k6"], "range": ["#ED2024", "#F2EA16", "#6ABD45", "#6CCDE0", "#3B57A7", "#B64F9E"]}, "legend": null},
        "order": {"field": "k", "sort": "ascending"}
      }
    },
    {
      "data": {"name": "f"}, "width": 433, "height": 175, "title": "F",
      "transform": [{"fold": ["k1", "k2", "k3", "k4", "k5", "k6"], "as": ["k", "q"]}, {"filter": "isValid(datum.q)"}],
      "mark": {"type": "bar"},
      "encoding": {
        "x": {"field": "i", "type": "ordinal", "axis": null, "scale": {"paddingInner": 0.14, "paddingOuter": 0}},
        "y": {"field": "q", "type": "quantitative", "stack": "zero", "scale": {"domain": [0, 1], "nice": false}, "axis": {"title": "Degree of Admixture", "values": [0, 0.2, 0.4, 0.6, 0.8, 1], "format": ".1f"}},
        "color": {"field": "k", "type": "nominal", "scale": {"domain": ["k1", "k2", "k3", "k4", "k5", "k6"], "range": ["#ED2024", "#F2EA16", "#6ABD45", "#6CCDE0", "#3B57A7", "#B64F9E"]}, "legend": null},
        "order": {"field": "k", "sort": "ascending"}
      }
    }
  ],
  "resolve": {"scale": {"x": "independent", "y": "independent"}},
  "config": {
    "view": {"stroke": null},
    "font": "Liberation Sans",
    "title": {"font": "Liberation Sans", "fontSize": 15, "fontWeight": "bold", "color": "#000000", "anchor": "start", "frame": "bounds", "offset": -7, "dx": -4},
    "axisY": {
      "grid": false,
      "offset": 18,
      "domainColor": "#6e6e6e",
      "tickColor": "#6e6e6e",
      "tickSize": 5,
      "labelFont": "Liberation Sans",
      "labelFontSize": 12,
      "labelColor": "#333333",
      "labelAngle": 270,
      "labelAlign": "center",
      "labelBaseline": "bottom",
      "labelPadding": 4,
      "titleFont": "Liberation Sans",
      "titleFontSize": 13,
      "titleFontWeight": "normal",
      "titleColor": "#222222",
      "titlePadding": 10
    }
  }
}
